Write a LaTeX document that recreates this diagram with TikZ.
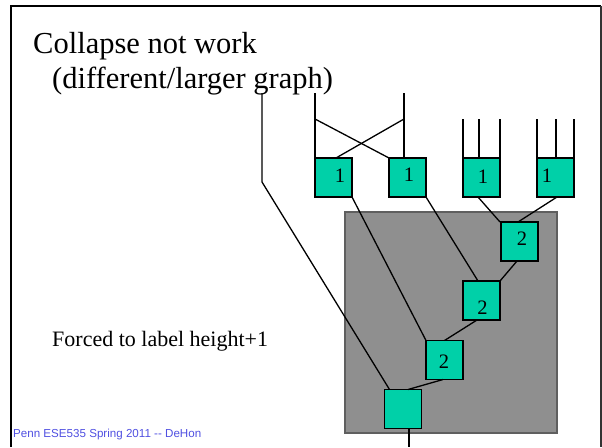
\documentclass[tikz,border=0pt]{standalone}
\usepackage{fontspec}
\setmainfont{Liberation Serif}
\newfontfamily\footfont{Liberation Sans}
\definecolor{teal1}{RGB}{0,208,168}
\definecolor{grayfill}{RGB}{143,143,143}
\definecolor{grayedge}{RGB}{95,95,95}
\definecolor{footblue}{RGB}{80,80,225}
\begin{document}
\begin{tikzpicture}[x=1pt,y=-1pt,
  cell/.style={draw=black,line width=1.8pt,fill=teal1,minimum width=37pt,minimum height=39pt,inner sep=0pt,outer sep=0pt},
  wire/.style={line width=1.3pt,black},
  digit/.style={inner sep=0pt,font=\fontsize{20.5}{22}\selectfont},
  frameline/.style={line width=2.4pt,black}]
\useasboundingbox (0,0) rectangle (602,447);
% frame
\coordinate (fa) at (11,447);
\coordinate (fb) at (11,6);
\coordinate (fc) at (601,6);
\coordinate (fd) at (601,447);
\draw[frameline] (fa) -- (fb) -- (fc);
\draw[line width=1.4pt,black!80] (fc) -- (fd);
% texts
\node[anchor=base west,inner sep=0pt,font=\fontsize{30.5}{35}\selectfont] (t1) at (33,53) {Collapse not work};
\node[anchor=base west,inner sep=0pt,font=\fontsize{30.5}{35}\selectfont] (t2) at (52,88) {(different/larger graph)};
\node[anchor=base west,inner sep=0pt,font=\fontsize{22}{26}\selectfont] (t3) at (52,346) {Forced to label height+1};
\node[anchor=base west,inner sep=0pt,text=footblue,font=\footfont\fontsize{11.6}{13}\selectfont] (t4) at (13,437) {Penn ESE535 Spring 2011 -- DeHon};
% gray region
\node[draw=grayedge,line width=1.2pt,fill=grayfill,minimum width=212pt,minimum height=221pt,inner sep=0pt,outer sep=0pt] (g) at (451,322.5) {};
% cells
\node[cell] (b1) at (333.5,177.5) {};
\node[cell] (b2) at (407.5,177.5) {};
\node[cell] (b3) at (481.5,177.5) {};
\node[cell] (b4) at (555.5,177.5) {};
\node[cell] (c1) at (519.5,241.5) {};
\node[cell] (c2) at (481.5,300.5) {};
\node[cell] (c3) at (444.5,360) {};
\node[cell] (d) at (403,409) {};
% labels
\node[digit] (lb1) at (340,176) {1};
\node[digit] (lb2) at (409,174.5) {1};
\node[digit] (lb3) at (483,177) {1};
\node[digit] (lb4) at (547,176) {1};
\node[digit] (lc1) at (522,239) {2};
\node[digit] (lc2) at (482.5,307.5) {2};
\node[digit] (lc3) at (444,362) {2};
% free ends
\coordinate (p0) at (262,93);
\coordinate (p0b) at (262,182);
\coordinate (p1) at (315,93);
\coordinate (p2) at (404,93);
\coordinate (x1) at (315,119);
\coordinate (x2) at (404,119);
\coordinate (q1) at (463,119);
\coordinate (q2) at (479,119);
\coordinate (q3) at (500,119);
\coordinate (r1) at (537,119);
\coordinate (r2) at (556,119);
\coordinate (r3) at (574,119);
\coordinate (out) at (409,447);
% wires
\draw[wire] (p0) -- (p0b) -- ([xshift=5pt]d.north west);
\draw[wire] (p1) -- (p1 |- b1.north);
\draw[wire] (p2) -- (p2 |- b2.north);
\draw[wire] (x1) -- (b2.north west);
\draw[wire] (x2) -- ([xshift=2.5pt]b1.north);
\draw[wire] (q1) -- (q1 |- b3.north);
\draw[wire] (q2) -- (q2 |- b3.north);
\draw[wire] (q3) -- (q3 |- b3.north);
\draw[wire] (r1) -- (r1 |- b4.north);
\draw[wire] (r2) -- (r2 |- b4.north);
\draw[wire] (r3) -- (r3 |- b4.north);
\draw[wire] (b1.south east) -- (c3.north west);
\draw[wire] (b2.south east) -- ([xshift=-3.5pt]c2.north);
\draw[wire] ([xshift=-3.5pt]b3.south) -- ([xshift=-1pt]c1.north west);
\draw[wire] ([xshift=1.5pt]b4.south) -- ([xshift=-1.5pt]c1.north);
\draw[wire] ([xshift=-2.5pt]c1.south) -- (c2.north east);
\draw[wire] ([xshift=-4.5pt]c2.south) -- (c3.north);
\draw[wire] ([xshift=-1.5pt]c3.south) -- ([xshift=5pt]d.north);
\draw[wire] ([xshift=6pt]d.south) -- (out);
\end{tikzpicture}
\end{document}
